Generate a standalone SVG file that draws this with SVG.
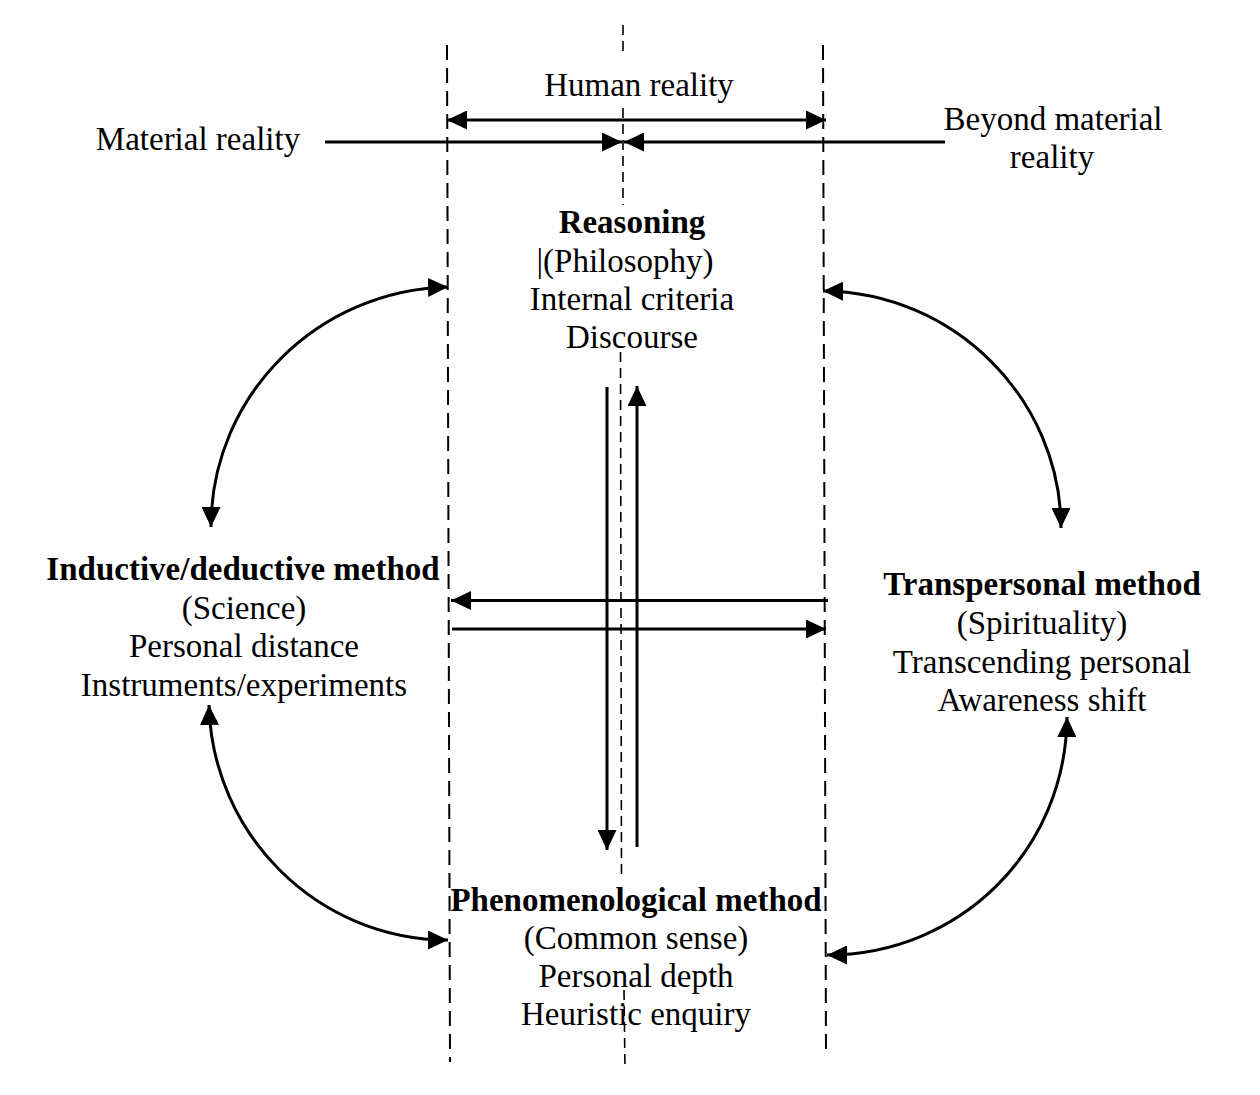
<svg xmlns="http://www.w3.org/2000/svg" width="1260" height="1095" viewBox="0 0 1260 1095">
<defs>
<style>
text{font-family:"Liberation Serif","Times New Roman",serif;font-size:33px;fill:#000;text-anchor:middle}
.b{font-weight:bold}
.dash{stroke:#000;stroke-width:2;stroke-dasharray:15 8;fill:none}
.dashc{stroke:#000;stroke-width:1.6;stroke-dasharray:10 6;fill:none}
.arr{stroke:#000;stroke-width:3;fill:none;marker-end:url(#ah)}
.arr2{stroke:#000;stroke-width:3;fill:none;marker-start:url(#ah);marker-end:url(#ah)}
</style>
<marker id="ah" markerUnits="userSpaceOnUse" markerWidth="20" markerHeight="19" refX="20" refY="9.5" orient="auto-start-reverse" viewBox="0 0 20 19">
<path d="M0,0 L20,9.5 L0,19 z" fill="#000"/>
</marker>
</defs>
<rect width="1260" height="1095" fill="#fff"/>
<g id="guides">
<line class="dash" x1="447" y1="45" x2="450" y2="1062"/>
<line class="dash" x1="823" y1="45" x2="826" y2="1057"/>
<line class="dashc" x1="623" y1="25" x2="623" y2="54"/>
<line class="dashc" x1="623" y1="108" x2="623" y2="205"/>
<line class="dashc" x1="620.5" y1="352" x2="621.5" y2="880"/>
<line class="dashc" x1="624" y1="990" x2="625" y2="1070"/>
</g>
<g id="connectors">
<line class="arr2" x1="447" y1="120" x2="826" y2="120"/>
<line class="arr" x1="325" y1="142" x2="622" y2="142"/>
<line class="arr" x1="945" y1="142" x2="624" y2="142"/>
<line class="arr" x1="607" y1="387" x2="607" y2="850"/>
<line class="arr" x1="637" y1="847" x2="637" y2="386"/>
<line class="arr" x1="828" y1="600.5" x2="451" y2="600.5"/>
<line class="arr" x1="452" y1="629" x2="826" y2="629"/>
<path class="arr2" d="M448,287 C318,290 211,395 211,527"/>
<path class="arr2" d="M823,291 C955,292 1061,400 1061,528"/>
<path class="arr2" d="M209,705 C212,835 318,940 448,940"/>
<path class="arr2" d="M1067,717 C1066,850 960,955 827,955"/>
</g>
<g id="labels">
<text x="639" y="96">Human reality</text>
<text x="198" y="150">Material reality</text>
<text x="1053" y="130">Beyond material</text>
<text x="1052" y="168">reality</text>
</g>
<g id="node-reasoning">
<text class="b" x="632" y="233">Reasoning</text>
<text x="625" y="272">|(Philosophy)</text>
<text x="632" y="310">Internal criteria</text>
<text x="632" y="348">Discourse</text>
</g>
<g id="node-inductive">
<text class="b" x="243" y="580">Inductive/deductive method</text>
<text x="244" y="619">(Science)</text>
<text x="244" y="657">Personal distance</text>
<text x="244" y="696">Instruments/experiments</text>
</g>
<g id="node-transpersonal">
<text class="b" x="1042" y="595">Transpersonal method</text>
<text x="1042" y="634">(Spirituality)</text>
<text x="1042" y="673">Transcending personal</text>
<text x="1042" y="711">Awareness shift</text>
</g>
<g id="node-phenomenological">
<text class="b" x="636" y="911">Phenomenological method</text>
<text x="636" y="949">(Common sense)</text>
<text x="636" y="987">Personal depth</text>
<text x="636" y="1025">Heuristic enquiry</text>
</g>
</svg>
